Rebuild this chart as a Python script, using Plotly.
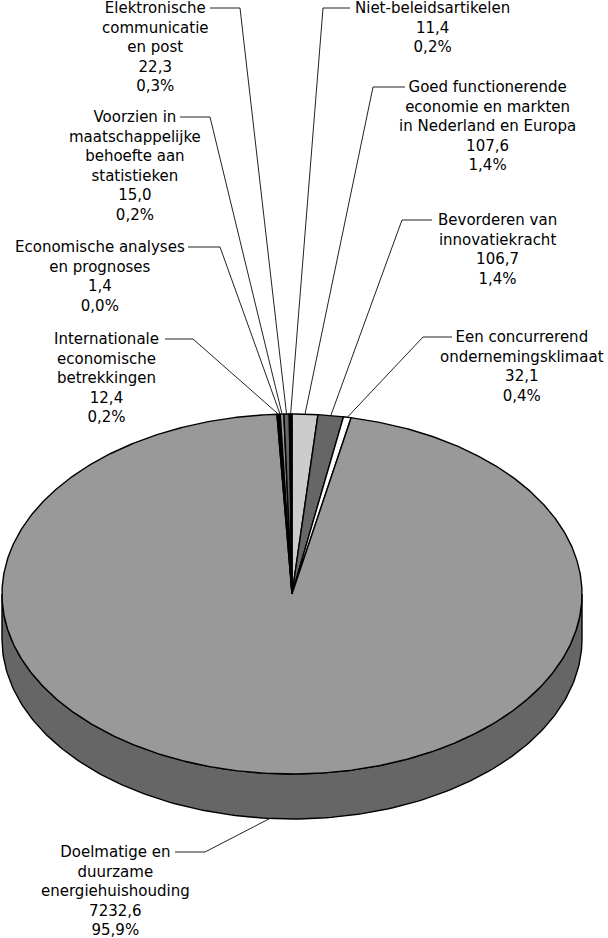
import numpy as np
import plotly.graph_objects as go

# ---- data (clockwise from 12 o'clock) ----
names = [
    "Goed functionerende<br>economie en markten<br>in Nederland en Europa",
    "Bevorderen van<br>innovatiekracht",
    "Een concurrerend<br>ondernemingsklimaat",
    "Doelmatige en<br>duurzame<br>energiehuishouding",
    "Internationale<br>economische<br>betrekkingen",
    "Economische analyses<br>en prognoses",
    "Voorzien in<br>maatschappelijke<br>behoefte aan<br>statistieken",
    "Elektronische<br>communicatie<br>en post",
    "Niet-beleidsartikelen",
]
values = [107.6, 106.7, 32.1, 7232.6, 12.4, 1.4, 15.0, 22.3, 11.4]
colors = ["#cccccc", "#666666", "#ffffff", "#999999", "#000000",
          "#ffffff", "#999999", "#666666", "#000000"]
side_colors = ["#888888", "#444444", "#aaaaaa", "#666666", "#000000",
               "#aaaaaa", "#666666", "#444444", "#000000"]

# ---- layout of the drawing ----
W, H = 608, 938
cx, cy = 292.0, 594.0
rx, ry = 290.0, 180.0
depth = 45.0
FS = 15
LH = 19.5
# label layout: (text center x, first-line y, text-side x of leader, elbow x)
label_pos = [
    (487, 87, 405, 373),
    (497, 220, 432, 402),
    (522, 337, 452, 423),
    (115, 852, 175, 205),
    (106, 339, 165, 193),
    (100, 247, 188, 220),
    (135, 117, 180, 210),
    (155, 8, 210, 240),
    (432, 8, 350, 323),
]

total = sum(values)
fracs = [v / total for v in values]
bounds = np.concatenate([[0.0], np.cumsum(fracs)]) * 360.0


def pt(theta_deg, dz=0.0):
    t = np.radians(theta_deg)
    return cx + rx * np.sin(t), cy - ry * np.cos(t) + dz


fig = go.Figure()

# sides (front half: 90..270 degrees)
for i in range(len(values)):
    a0, a1 = max(bounds[i], 90.0), min(bounds[i + 1], 270.0)
    if a1 <= a0:
        continue
    th = np.linspace(a0, a1, 200)
    xt, yt = pt(th)
    xb, yb = pt(th[::-1], depth)
    xs = np.concatenate([xt, xb, xt[:1]])
    ys = np.concatenate([yt, yb, yt[:1]])
    fig.add_trace(go.Scatter(x=xs, y=ys, mode="lines", fill="toself",
                             fillcolor=side_colors[i],
                             line=dict(color="black", width=1.4),
                             hoverinfo="skip", showlegend=False))

# top face slices
for i in range(len(values)):
    a0, a1 = bounds[i], bounds[i + 1]
    n = max(3, int((a1 - a0) * 2))
    th = np.linspace(a0, a1, n)
    xa, ya = pt(th)
    xs = np.concatenate([[cx], xa, [cx]])
    ys = np.concatenate([[cy], ya, [cy]])
    fig.add_trace(go.Scatter(x=xs, y=ys, mode="lines", fill="toself",
                             fillcolor=colors[i],
                             line=dict(color="black", width=1.4),
                             hoverinfo="skip", showlegend=False))

# labels and leader lines
for i in range(len(values)):
    xc, y1, xs0, xel = label_pos[i]
    mid = (bounds[i] + bounds[i + 1]) / 2.0
    px, py = pt(mid)
    if 90.0 < mid < 270.0:
        py += depth
    fig.add_trace(go.Scatter(x=[xs0, xel, px], y=[y1, y1, py], mode="lines",
                             line=dict(color="#222222", width=1),
                             hoverinfo="skip", showlegend=False))
    vtxt = f"{values[i]:.1f}".replace(".", ",")
    ptxt = f"{fracs[i] * 100:.1f}".replace(".", ",") + "%"
    text = f"{names[i]}<br>{vtxt}<br>{ptxt}"
    nlines = text.count("<br>") + 1
    fig.add_annotation(x=xc, y=y1 + (nlines - 1) * LH / 2.0, xref="x", yref="y",
                       text=text,
                       showarrow=False, xanchor="center", yanchor="middle",
                       align="center",
                       font=dict(family="DejaVu Sans", size=FS, color="black"))

fig.update_layout(
    width=W, height=H, margin=dict(l=0, r=0, t=0, b=0),
    paper_bgcolor="white", plot_bgcolor="white",
    xaxis=dict(range=[0, W], visible=False, fixedrange=True),
    yaxis=dict(range=[H, 0], visible=False, fixedrange=True),
    showlegend=False,
)
fig.write_html("out.html",
               config={"displayModeBar": False},
               post_script="document.body.style.margin='0px';"
                           "document.body.style.overflow='hidden';")
